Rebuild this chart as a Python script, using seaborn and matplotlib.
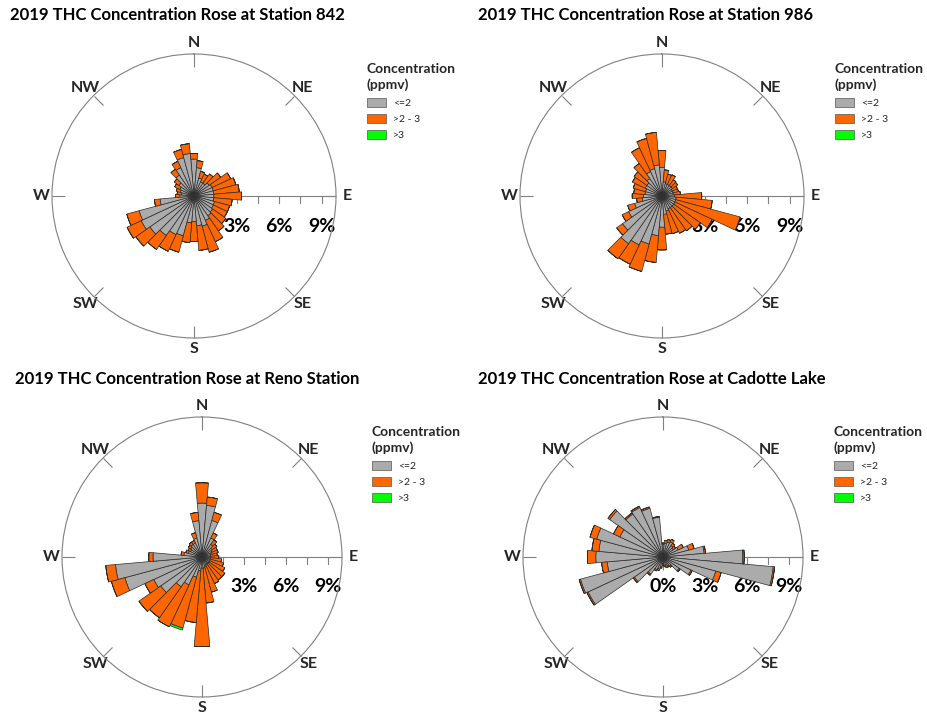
import numpy as np
import matplotlib
matplotlib.use("Agg")
import matplotlib.pyplot as plt
import seaborn as sns
from matplotlib.patches import Patch

sns.set_theme(style="white")
plt.rcParams["font.family"] = ["Lato", "DejaVu Sans"]
plt.rcParams["xtick.bottom"] = True
plt.rcParams["xtick.top"] = True

# wind direction sectors (degrees from north, 10-degree bins)
directions = np.arange(0, 360, 10)
compass = ["N", "NE", "E", "SE", "S", "SW", "W", "NW"]
bin_labels = ["<=2", ">2 - 3", ">3"]
bin_colors = ["#ABABAB", "#FF6600", "#00FF00"]
radial_labels = [0, 3, 6, 9]

# frequency (%) per sector for each concentration bin
s842_low = [2.6, 2.0, 1.3, 1.1, 1.1, 1.3, 1.4, 1.4, 1.4, 1.4, 1.4, 1.5,
            1.5, 1.6, 1.7, 1.9, 2.2, 2.1, 1.8, 1.9, 2.9, 3.0, 3.4, 3.8,
            4.1, 4.0, 2.4, 1.0, 0.9, 1.0, 1.1, 1.3, 1.8, 2.2, 2.8, 3.0]
s842_mid = [0.4, 0.5, 0.5, 0.6, 0.8, 1.0, 1.45, 1.65, 1.8, 1.95, 1.3, 1.1,
            1.1, 1.15, 1.3, 1.65, 1.9, 1.75, 1.4, 1.4, 1.2, 1.3, 1.2, 1.2,
            1.1, 0.9, 0.4, 0.3, 0.3, 0.3, 0.4, 0.4, 0.5, 0.5, 0.6, 0.7]
s842_high = [0.0] * 36

s986_low = [2.0, 1.0, 0.9, 0.9, 0.9, 0.9, 0.8, 0.8, 0.8, 0.9, 1.0, 1.0,
            1.0, 1.0, 1.0, 1.0, 1.1, 1.3, 2.2, 2.8, 3.5, 3.8, 4.1, 3.4,
            2.6, 2.0, 1.4, 1.3, 1.2, 1.2, 1.3, 1.3, 1.5, 1.9, 2.0, 2.2]
s986_mid = [1.2, 0.85, 0.7, 0.75, 0.5, 0.45, 0.4, 0.4, 0.5, 1.9, 2.55, 4.7,
            2.9, 2.3, 2.0, 1.9, 1.65, 1.4, 1.6, 1.9, 2.0, 1.5, 1.3, 0.5,
            0.5, 0.5, 0.4, 0.8, 0.8, 0.9, 1.0, 1.1, 1.3, 1.85, 2.2, 2.3]
s986_high = [0.0] * 36

reno_low = [3.85, 3.7, 2.7, 1.5, 1.1, 0.9, 0.8, 0.7, 0.6, 0.6, 0.6, 0.6,
            0.6, 0.6, 0.6, 0.6, 0.7, 0.8, 0.8, 1.0, 1.5, 2.2, 2.6, 3.6,
            3.8, 5.7, 6.2, 3.5, 1.3, 1.0, 0.9, 1.0, 1.1, 1.1, 1.4, 2.6]
reno_mid = [1.45, 0.6, 0.6, 0.4, 0.4, 0.4, 0.4, 0.5, 0.5, 0.6, 0.8, 1.0,
            1.2, 1.4, 1.4, 1.5, 1.9, 2.5, 5.6, 3.7, 3.75, 3.3, 2.7, 1.9,
            0.7, 1.0, 0.7, 0.3, 0.2, 0.2, 0.2, 0.2, 0.2, 0.2, 0.4, 0.6]
reno_high = [0.0] * 20 + [0.15] + [0.0] * 15

cadotte_low = [0.9, 1.0, 1.1, 1.2, 1.0, 0.9, 1.2, 1.9, 2.95, 5.7, 7.9, 3.9,
               2.2, 1.4, 0.8, 0.7, 0.6, 0.6, 0.5, 0.7, 0.9, 1.0, 1.5, 2.5,
               5.9, 6.1, 4.0, 4.8, 4.6, 4.9, 3.4, 4.65, 3.75, 3.9, 3.6, 2.85]
cadotte_mid = [0.1, 0.2, 0.2, 0.2, 0.2, 0.2, 0.4, 0.4, 0.1, 0.1, 0.1, 0.4,
               0.1, 0.1, 0.1, 0.1, 0.2, 0.1, 0.1, 0.1, 0.1, 0.1, 0.1, 0.1,
               0.1, 0.1, 0.4, 0.6, 0.5, 0.5, 0.5, 0.15, 0.1, 0.1, 0.1, 0.05]
cadotte_high = [0.0] * 36

stations = [
    ("2019 THC Concentration Rose at Station 842", s842_low, s842_mid, s842_high),
    ("2019 THC Concentration Rose at Station 986", s986_low, s986_mid, s986_high),
    ("2019 THC Concentration Rose at Reno Station", reno_low, reno_mid, reno_high),
    ("2019 THC Concentration Rose at Cadotte Lake", cadotte_low, cadotte_mid, cadotte_high),
]

# layout in pixels: rose centre/radius, title position, legend anchor
W, H = 928, 723
panels = [
    dict(center=(194, 196), radius=142, title=(10, 15), legend=(367, 63)),
    dict(center=(662, 196), radius=142, title=(478, 15), legend=(835, 63)),
    dict(center=(202, 557), radius=140, title=(15, 379), legend=(372, 426)),
    dict(center=(663, 557), radius=140, title=(478, 379), legend=(834, 426)),
]

fig = plt.figure(figsize=(W / 100, H / 100), dpi=100)
fig.patch.set_facecolor("white")

theta = np.deg2rad(directions)
width = np.deg2rad(10)
handles = [Patch(facecolor=c, edgecolor="#555555", linewidth=0.5) for c in bin_colors]

for (title, low, mid, high), p in zip(stations, panels):
    cx, cy = p["center"]
    r = p["radius"]
    ax = fig.add_axes([(cx - r) / W, 1 - (cy + r) / H, 2 * r / W, 2 * r / H],
                      projection="polar")
    ax.set_theta_zero_location("N")
    ax.set_theta_direction(-1)

    bottom = np.zeros(len(directions))
    for vals, color in zip([low, mid, high], bin_colors):
        vals = np.array(vals)
        ax.bar(theta, vals, width=width, bottom=bottom, color=color,
               edgecolor="#2b2b2b", linewidth=0.5, zorder=3)
        bottom = bottom + vals

    ax.set_ylim(0, 10)
    ax.grid(False)
    ax.set_yticks([])
    ax.set_xticks(np.deg2rad(np.arange(0, 360, 45)))
    ax.set_xticklabels(compass, fontsize=11.5, fontweight="bold")
    ax.tick_params(axis="x", which="major", direction="in", length=9,
                   width=0.8, color="#808080", pad=1, bottom=True, top=True)
    ax.spines["polar"].set_color("#808080")
    ax.spines["polar"].set_linewidth(0.8)

    # radial scale along the east axis
    ax.plot([np.pi / 2, np.pi / 2], [0, 10], color="#808080", lw=0.8, zorder=1)
    minor = np.arange(1.5, 10, 1.5)
    ax.plot(np.full(len(minor), np.pi / 2), minor, ls="none", marker=3,
            ms=5, mew=0.8, color="#808080", zorder=1)
    for v in radial_labels:
        ax.annotate(f"{v}%", xy=(np.pi / 2, v), xytext=(0, -30),
                    textcoords="offset pixels", ha="center", va="center",
                    fontsize=14, fontweight="bold", color="black", zorder=2)

    tx, ty = p["title"]
    fig.text(tx / W, 1 - ty / H, title, ha="left", va="center",
             fontsize=12, fontweight="bold", color="black")

    lx, ly = p["legend"]
    leg = fig.legend(handles, bin_labels, title="Concentration\n(ppmv)",
                     loc="upper left", bbox_to_anchor=(lx / W, 1 - ly / H),
                     bbox_transform=fig.transFigure, frameon=False, fontsize=7.5,
                     title_fontproperties={"weight": "bold", "size": 10},
                     alignment="left", handlelength=1.8, handleheight=0.95,
                     handletextpad=0.7, labelspacing=0.6, borderpad=0,
                     borderaxespad=0)
    leg.get_title().set_linespacing(1.35)

fig.savefig("out.png", dpi=100, facecolor="white")
